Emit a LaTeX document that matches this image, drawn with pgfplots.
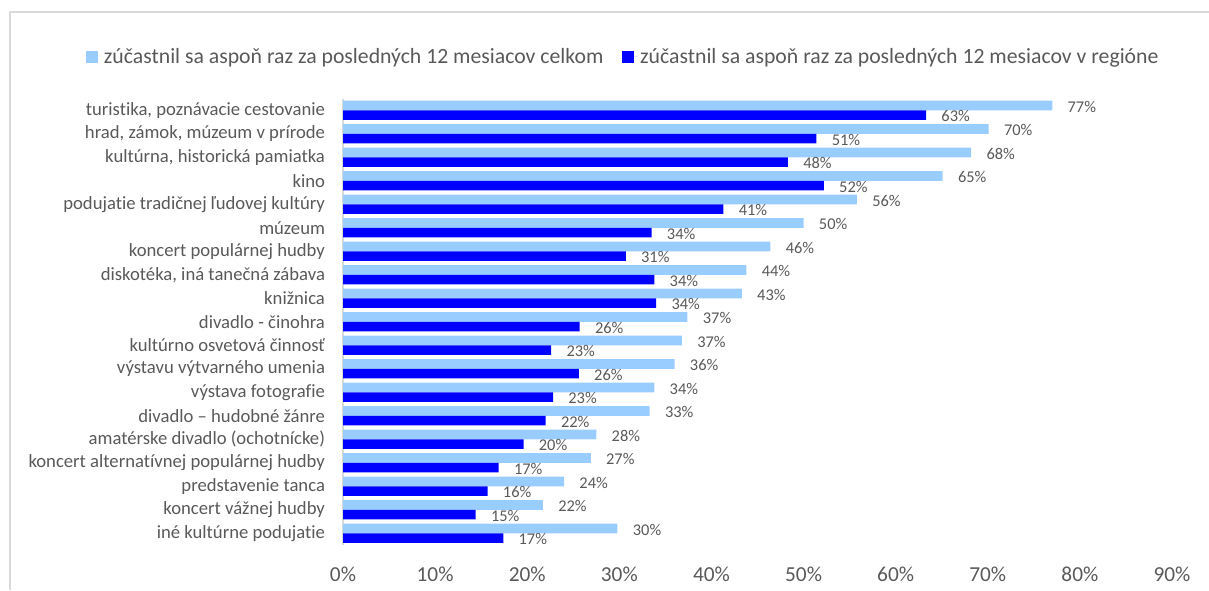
\documentclass[border=0pt]{standalone}
\usepackage{pgfplots}
\pgfplotsset{compat=1.18}
\usepackage{pgfplotstable}
\usepackage{fontspec}
\setmainfont[Ligatures=NoCommon]{Carlito}
\definecolor{lightbar}{HTML}{99CCFF}
\definecolor{darkbar}{HTML}{0000FF}
\definecolor{txt}{HTML}{595959}
\definecolor{frame}{HTML}{D9D9D9}

\pgfplotstableread{
y light dark ll dl
18 77.0 63.3 77 63
17 70.1 51.4 70 51
16 68.2 48.3 68 48
15 65.1 52.2 65 52
14 55.8 41.3 56 41
13 50.0 33.5 50 34
12 46.4 30.7 46 31
11 43.8 33.8 44 34
10 43.3 34.0 43 34
9 37.4 25.7 37 26
8 36.8 22.6 37 23
7 36.0 25.6 36 26
6 33.8 22.8 34 23
5 33.3 22.0 33 22
4 27.5 19.6 28 20
3 26.9 16.9 27 17
2 24.0 15.7 24 16
1 21.7 14.4 22 15
0 29.8 17.4 30 17
}\datatable

\begin{document}
\begin{tikzpicture}
\useasboundingbox (0pt,0pt) rectangle (906.75pt,-442.5pt);
\draw[frame, line width=1.1pt] (7.5pt,-442.5pt) -- (7.5pt,-9pt) -- (906.75pt,-9pt);
\begin{axis}[
  at={(257.25pt,-73.875pt)}, anchor=north west,
  scale only axis,
  width=621.75pt, height=334.875pt,
  xmin=0, xmax=90, ymin=-0.5, ymax=18.5,
  enlargelimits=false,
  axis lines*=left,
  x axis line style={draw=none},
  y axis line style={draw=frame, line width=1pt},
  major tick length=0pt,
  xtick={0,10,...,90},
  xticklabels={0\%,10\%,20\%,30\%,40\%,50\%,60\%,70\%,80\%,90\%},
  xticklabel style={font=\fontsize{16}{18}\selectfont, text=txt, yshift=-13pt},
  ytick={0,...,18},
  yticklabels={{iné kultúrne podujatie},{koncert vážnej hudby},{predstavenie tanca},{koncert alternatívnej populárnej hudby},{amatérske divadlo (ochotnícke)},{divadlo – hudobné žánre},{výstava fotografie},{výstavu výtvarného umenia},{kultúrno osvetová činnosť},{divadlo - činohra},{knižnica},{diskotéka, iná tanečná zábava},{koncert populárnej hudby},{múzeum},{podujatie tradičnej ľudovej kultúry},{kino},{kultúrna, historická pamiatka},{hrad, zámok, múzeum v prírode},{turistika, poznávacie cestovanie}},
  yticklabel style={font=\fontsize{14}{16}\selectfont, text=txt, anchor=east, xshift=-10pt},
  bar width=0.41,
  legend columns=2,
  legend style={at={(axis description cs:0.3384,1.093)}, anchor=center, draw=none, fill=none,
    font=\fontsize{16.3}{18}\selectfont, text=txt,
    /tikz/every even column/.append style={column sep=12pt},
    legend cell align=left},
  legend image code/.code={\fill[#1] (0pt,-4.5pt) rectangle (9pt,4.5pt); \path (0pt,0pt) -- (11.5pt,0pt);},
  nodes near coords={\pgfplotspointmeta\%},
  point meta=explicit symbolic,
  every node near coord/.append style={font=\fontsize{12.3}{14}\selectfont, text=txt, anchor=west, xshift=8pt, yshift=-0.8pt},
]
\addplot[xbar, bar shift=0pt, fill=lightbar, draw=none] table[x=light, y expr=\thisrow{y}+0.205, meta=ll]{\datatable};
\addlegendentry{zúčastnil sa aspoň raz za posledných 12 mesiacov celkom}
\addplot[xbar, bar shift=0pt, fill=darkbar, draw=none] table[x=dark, y expr=\thisrow{y}-0.205, meta=dl]{\datatable};
\addlegendentry{zúčastnil sa aspoň raz za posledných 12 mesiacov v regióne}
\end{axis}
\end{tikzpicture}
\end{document}
